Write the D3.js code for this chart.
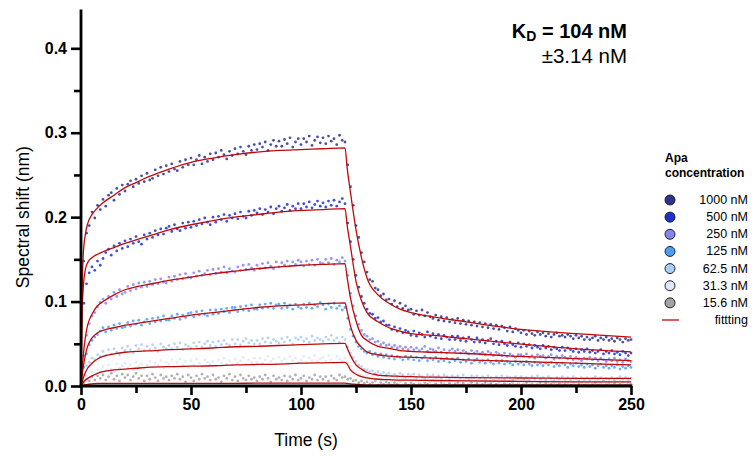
<!DOCTYPE html>
<html>
<head>
<meta charset="utf-8">
<script src="https://cdn.jsdelivr.net/npm/d3@7"></script>
<style>
  body { margin: 0; background: #fff; }
  text { font-family: "Liberation Sans", Arial, Helvetica, sans-serif; }
</style>
</head>
<body>
<div id="chart"></div>
<script>
// sizes of the picture
const width = 755
const height = 456
const margin = {left: 81, right: 124, top: 10, bottom: 70}

// concentrations, colours used for each series
const concentrations = ["1000 nM", "500 nM", "250 nM", "125 nM", "62.5 nM", "31.3 nM", "15.6 nM"]
const colours = ["#2a3391", "#1f30cf", "#8585f2", "#4a9ff3", "#a9cdf4", "#dce8f9", "#a3a3a3"]

// ticks
const xTicks = [0, 50, 100, 150, 200, 250]
const xMinor = [25, 75, 125, 175, 225]
const yTicks = [0, 0.1, 0.2, 0.3, 0.4]
const yMinor = [0.05, 0.15, 0.25, 0.35]

// measured points, one every 1.25 s (0 ... 250 s), one row = 10 s
const sampleTime = d3.range(0, 250.01, 1.25)

const data1000 = [
  0.004, 0.148, 0.181, 0.190, 0.206, 0.199, 0.214, 0.209,
  0.221, 0.213, 0.226, 0.229, 0.220, 0.234, 0.227, 0.238,
  0.231, 0.239, 0.243, 0.236, 0.245, 0.240, 0.249, 0.242,
  0.252, 0.244, 0.246, 0.256, 0.249, 0.259, 0.251, 0.261,
  0.254, 0.263, 0.257, 0.255, 0.266, 0.259, 0.268, 0.262,
  0.270, 0.262, 0.268, 0.273, 0.263, 0.271, 0.266, 0.275,
  0.268, 0.276, 0.271, 0.279, 0.274, 0.269, 0.278, 0.273,
  0.281, 0.275, 0.283, 0.278, 0.274, 0.284, 0.279, 0.286,
  0.280, 0.287, 0.283, 0.289, 0.279, 0.286, 0.291, 0.284,
  0.290, 0.284, 0.292, 0.287, 0.294, 0.283, 0.289, 0.293,
  0.286, 0.293, 0.289, 0.296, 0.285, 0.291, 0.295, 0.288,
  0.294, 0.287, 0.296, 0.290, 0.293, 0.286, 0.297, 0.291,
  0.289, 0.262, 0.236, 0.214, 0.190, 0.176, 0.158, 0.147,
  0.135, 0.126, 0.124, 0.116, 0.114, 0.107, 0.109, 0.102,
  0.103, 0.097, 0.101, 0.094, 0.098, 0.092, 0.095, 0.090,
  0.091, 0.085, 0.089, 0.084, 0.090, 0.083, 0.087, 0.082,
  0.080, 0.084, 0.078, 0.082, 0.077, 0.081, 0.076, 0.079,
  0.075, 0.080, 0.074, 0.078, 0.073, 0.077, 0.072, 0.076,
  0.071, 0.075, 0.070, 0.074, 0.069, 0.073, 0.068, 0.072,
  0.067, 0.071, 0.069, 0.065, 0.070, 0.064, 0.068, 0.066,
  0.063, 0.066, 0.061, 0.065, 0.062, 0.060, 0.064, 0.061,
  0.063, 0.059, 0.062, 0.058, 0.061, 0.063, 0.059, 0.060,
  0.058, 0.061, 0.059, 0.056, 0.060, 0.057, 0.059, 0.055,
  0.058, 0.055, 0.057, 0.059, 0.054, 0.057, 0.055, 0.058,
  0.054, 0.056, 0.053, 0.057, 0.055, 0.052, 0.056, 0.054,
  0.055]
const data500 = [
  0.003, 0.098, 0.121, 0.134, 0.141, 0.137, 0.148, 0.143,
  0.151, 0.158, 0.162, 0.155, 0.166, 0.160, 0.169, 0.163,
  0.172, 0.165, 0.174, 0.169, 0.177, 0.171, 0.168, 0.179,
  0.174, 0.181, 0.176, 0.184, 0.179, 0.186, 0.180, 0.187,
  0.189, 0.183, 0.191, 0.186, 0.184, 0.193, 0.187, 0.194,
  0.188, 0.195, 0.190, 0.197, 0.192, 0.199, 0.194, 0.191,
  0.200, 0.194, 0.201, 0.197, 0.203, 0.195, 0.202, 0.199,
  0.204, 0.198, 0.206, 0.201, 0.199, 0.207, 0.202, 0.208,
  0.205, 0.210, 0.203, 0.209, 0.206, 0.212, 0.204, 0.210,
  0.213, 0.207, 0.211, 0.215, 0.208, 0.213, 0.210, 0.216,
  0.210, 0.216, 0.212, 0.218, 0.211, 0.215, 0.219, 0.213,
  0.217, 0.212, 0.219, 0.214, 0.220, 0.213, 0.218, 0.222,
  0.216, 0.193, 0.171, 0.150, 0.131, 0.117, 0.106, 0.098,
  0.091, 0.086, 0.085, 0.080, 0.081, 0.076, 0.077, 0.072,
  0.072, 0.067, 0.070, 0.065, 0.068, 0.063, 0.066, 0.064,
  0.060, 0.065, 0.059, 0.063, 0.061, 0.058, 0.064, 0.059,
  0.062, 0.057, 0.061, 0.056, 0.060, 0.058, 0.055, 0.059,
  0.055, 0.059, 0.054, 0.057, 0.053, 0.058, 0.055, 0.052,
  0.057, 0.052, 0.055, 0.051, 0.054, 0.056, 0.050, 0.053,
  0.049, 0.053, 0.050, 0.048, 0.052, 0.049, 0.047, 0.051,
  0.046, 0.050, 0.047, 0.049, 0.045, 0.048, 0.046, 0.044,
  0.048, 0.045, 0.047, 0.043, 0.046, 0.044, 0.042, 0.046,
  0.042, 0.045, 0.043, 0.041, 0.044, 0.040, 0.043, 0.041,
  0.044, 0.040, 0.042, 0.039, 0.041, 0.043, 0.038, 0.041,
  0.039, 0.042, 0.038, 0.040, 0.037, 0.041, 0.039, 0.036,
  0.039]
const data250 = [
  0.002, 0.036, 0.060, 0.074, 0.083, 0.087, 0.094, 0.099,
  0.103, 0.098, 0.106, 0.103, 0.111, 0.106, 0.114, 0.109,
  0.111, 0.118, 0.113, 0.120, 0.115, 0.122, 0.117, 0.123,
  0.118, 0.124, 0.120, 0.126, 0.121, 0.127, 0.123, 0.122,
  0.129, 0.124, 0.130, 0.126, 0.132, 0.127, 0.133, 0.129,
  0.128, 0.134, 0.130, 0.136, 0.131, 0.133, 0.137, 0.132,
  0.138, 0.133, 0.139, 0.135, 0.141, 0.134, 0.139, 0.136,
  0.135, 0.141, 0.137, 0.143, 0.138, 0.144, 0.140, 0.137,
  0.143, 0.139, 0.145, 0.140, 0.146, 0.142, 0.139, 0.147,
  0.141, 0.146, 0.143, 0.148, 0.142, 0.147, 0.144, 0.149,
  0.147, 0.142, 0.148, 0.144, 0.149, 0.143, 0.150, 0.146,
  0.145, 0.150, 0.146, 0.151, 0.144, 0.149, 0.147, 0.152,
  0.148, 0.131, 0.110, 0.095, 0.083, 0.073, 0.066, 0.061,
  0.059, 0.055, 0.056, 0.052, 0.053, 0.049, 0.051, 0.048,
  0.049, 0.046, 0.048, 0.045, 0.047, 0.044, 0.046, 0.043,
  0.046, 0.043, 0.045, 0.042, 0.044, 0.047, 0.041, 0.044,
  0.043, 0.041, 0.045, 0.040, 0.043, 0.039, 0.042, 0.044,
  0.041, 0.043, 0.039, 0.042, 0.040, 0.038, 0.042, 0.039,
  0.041, 0.038, 0.040, 0.037, 0.041, 0.039, 0.036, 0.040,
  0.038, 0.036, 0.039, 0.035, 0.038, 0.036, 0.034, 0.037,
  0.037, 0.035, 0.038, 0.034, 0.036, 0.033, 0.037, 0.035,
  0.036, 0.033, 0.035, 0.037, 0.032, 0.035, 0.033, 0.036,
  0.034, 0.032, 0.035, 0.031, 0.034, 0.032, 0.030, 0.033,
  0.032, 0.034, 0.031, 0.033, 0.030, 0.033, 0.031, 0.029,
  0.032, 0.030, 0.033, 0.029, 0.031, 0.028, 0.032, 0.030,
  0.029]
const data125 = [
  0.001, 0.022, 0.038, 0.049, 0.054, 0.058, 0.061, 0.065,
  0.069, 0.064, 0.070, 0.066, 0.072, 0.068, 0.074, 0.069,
  0.070, 0.075, 0.071, 0.077, 0.073, 0.078, 0.072, 0.076,
  0.079, 0.074, 0.080, 0.076, 0.081, 0.077, 0.083, 0.078,
  0.078, 0.083, 0.080, 0.085, 0.079, 0.084, 0.081, 0.086,
  0.087, 0.082, 0.088, 0.084, 0.089, 0.085, 0.083, 0.090,
  0.085, 0.090, 0.086, 0.091, 0.088, 0.092, 0.087, 0.093,
  0.093, 0.088, 0.094, 0.090, 0.095, 0.089, 0.096, 0.091,
  0.091, 0.096, 0.092, 0.097, 0.093, 0.098, 0.092, 0.096,
  0.097, 0.092, 0.098, 0.093, 0.096, 0.091, 0.097, 0.094,
  0.092, 0.097, 0.093, 0.098, 0.092, 0.096, 0.094, 0.099,
  0.096, 0.091, 0.097, 0.093, 0.098, 0.092, 0.095, 0.090,
  0.093, 0.080, 0.067, 0.059, 0.052, 0.047, 0.044, 0.041,
  0.039, 0.041, 0.037, 0.039, 0.035, 0.038, 0.034, 0.037,
  0.033, 0.036, 0.032, 0.035, 0.034, 0.031, 0.035, 0.032,
  0.035, 0.031, 0.034, 0.030, 0.033, 0.035, 0.030, 0.033,
  0.031, 0.034, 0.029, 0.032, 0.030, 0.033, 0.028, 0.032,
  0.030, 0.033, 0.028, 0.031, 0.029, 0.032, 0.027, 0.030,
  0.032, 0.028, 0.030, 0.027, 0.031, 0.028, 0.026, 0.030,
  0.027, 0.030, 0.026, 0.029, 0.027, 0.025, 0.029, 0.026,
  0.028, 0.025, 0.029, 0.026, 0.024, 0.028, 0.025, 0.027,
  0.024, 0.027, 0.025, 0.028, 0.023, 0.026, 0.024, 0.027,
  0.025, 0.022, 0.026, 0.024, 0.027, 0.023, 0.025, 0.022,
  0.026, 0.023, 0.025, 0.021, 0.024, 0.026, 0.022, 0.024,
  0.021, 0.024, 0.022, 0.025, 0.020, 0.023, 0.021, 0.024,
  0.022]
const data62 = [
  0.002, 0.013, 0.024, 0.028, 0.033, 0.031, 0.037, 0.035,
  0.041, 0.036, 0.043, 0.038, 0.044, 0.040, 0.037, 0.045,
  0.042, 0.047, 0.043, 0.039, 0.048, 0.044, 0.049, 0.042,
  0.047, 0.043, 0.049, 0.045, 0.041, 0.050, 0.046, 0.044,
  0.048, 0.044, 0.050, 0.046, 0.051, 0.043, 0.049, 0.047,
  0.045, 0.051, 0.047, 0.052, 0.046, 0.050, 0.053, 0.048,
  0.052, 0.047, 0.053, 0.049, 0.054, 0.050, 0.048, 0.055,
  0.050, 0.055, 0.049, 0.053, 0.056, 0.051, 0.054, 0.050,
  0.054, 0.050, 0.056, 0.052, 0.057, 0.051, 0.055, 0.053,
  0.051, 0.056, 0.052, 0.058, 0.054, 0.050, 0.057, 0.055,
  0.058, 0.053, 0.056, 0.052, 0.059, 0.054, 0.057, 0.055,
  0.053, 0.058, 0.055, 0.060, 0.054, 0.057, 0.052, 0.058,
  0.055, 0.046, 0.039, 0.034, 0.029, 0.025, 0.023, 0.020,
  0.019, 0.017, 0.018, 0.015, 0.017, 0.014, 0.016, 0.013,
  0.015, 0.012, 0.014, 0.011, 0.015, 0.013, 0.010, 0.014,
  0.012, 0.014, 0.010, 0.013, 0.011, 0.009, 0.013, 0.011,
  0.013, 0.010, 0.012, 0.009, 0.013, 0.011, 0.008, 0.012,
  0.010, 0.012, 0.009, 0.013, 0.010, 0.008, 0.012, 0.010,
  0.012, 0.009, 0.011, 0.008, 0.012, 0.010, 0.007, 0.011,
  0.009, 0.012, 0.008, 0.011, 0.010, 0.007, 0.011, 0.009,
  0.011, 0.008, 0.010, 0.007, 0.011, 0.009, 0.012, 0.008,
  0.010, 0.007, 0.011, 0.009, 0.006, 0.010, 0.008, 0.011,
  0.008, 0.010, 0.007, 0.011, 0.009, 0.006, 0.010, 0.008,
  0.010, 0.007, 0.009, 0.011, 0.008, 0.010, 0.006, 0.009,
  0.008, 0.010, 0.007, 0.009, 0.011, 0.008, 0.010, 0.007,
  0.009]
const data31 = [
  0.001, 0.006, 0.012, 0.009, 0.016, 0.013, 0.019, 0.017,
  0.023, 0.018, 0.025, 0.020, 0.017, 0.026, 0.021, 0.024,
  0.027, 0.021, 0.025, 0.019, 0.028, 0.023, 0.026, 0.020,
  0.025, 0.029, 0.022, 0.027, 0.024, 0.030, 0.021, 0.028,
  0.026, 0.031, 0.023, 0.028, 0.032, 0.025, 0.029, 0.022,
  0.030, 0.025, 0.032, 0.027, 0.023, 0.031, 0.028, 0.026,
  0.029, 0.024, 0.031, 0.027, 0.033, 0.026, 0.030, 0.025,
  0.032, 0.027, 0.030, 0.034, 0.026, 0.031, 0.028, 0.033,
  0.028, 0.033, 0.027, 0.031, 0.035, 0.029, 0.032, 0.026,
  0.034, 0.029, 0.032, 0.027, 0.035, 0.030, 0.033, 0.028,
  0.031, 0.035, 0.028, 0.033, 0.030, 0.036, 0.029, 0.032,
  0.034, 0.029, 0.036, 0.031, 0.028, 0.035, 0.032, 0.030,
  0.033, 0.027, 0.023, 0.019, 0.017, 0.014, 0.013, 0.011,
  0.012, 0.009, 0.011, 0.008, 0.012, 0.009, 0.007, 0.010,
  0.009, 0.006, 0.010, 0.008, 0.005, 0.009, 0.007, 0.010,
  0.006, 0.009, 0.007, 0.004, 0.008, 0.006, 0.009, 0.005,
  0.008, 0.005, 0.009, 0.006, 0.004, 0.008, 0.006, 0.009,
  0.005, 0.008, 0.004, 0.007, 0.006, 0.003, 0.008, 0.005,
  0.007, 0.004, 0.006, 0.008, 0.003, 0.006, 0.005, 0.007,
  0.004, 0.007, 0.005, 0.003, 0.007, 0.005, 0.008, 0.004,
  0.006, 0.003, 0.007, 0.005, 0.004, 0.007, 0.003, 0.006,
  0.005, 0.007, 0.003, 0.006, 0.004, 0.007, 0.005, 0.003,
  0.006, 0.004, 0.007, 0.003, 0.005, 0.006, 0.004, 0.006,
  0.003, 0.006, 0.004, 0.007, 0.005, 0.003, 0.006, 0.004,
  0.005, 0.003, 0.006, 0.004, 0.006, 0.003, 0.005, 0.004,
  0.005]
const data15 = [
  0.000, 0.004, 0.008, 0.006, 0.011, 0.007, 0.012, 0.009,
  0.013, 0.007, 0.011, 0.015, 0.008, 0.012, 0.006, 0.014,
  0.010, 0.013, 0.007, 0.011, 0.015, 0.009, 0.012, 0.006,
  0.012, 0.008, 0.014, 0.010, 0.006, 0.013, 0.009, 0.011,
  0.007, 0.012, 0.009, 0.014, 0.008, 0.011, 0.005, 0.013,
  0.010, 0.006, 0.012, 0.008, 0.014, 0.009, 0.011, 0.007,
  0.013, 0.008, 0.010, 0.005, 0.012, 0.009, 0.014, 0.007,
  0.011, 0.006, 0.013, 0.009, 0.007, 0.012, 0.008, 0.010,
  0.006, 0.011, 0.008, 0.013, 0.009, 0.005, 0.012, 0.008,
  0.010, 0.007, 0.012, 0.006, 0.011, 0.008, 0.013, 0.007,
  0.009, 0.012, 0.006, 0.010, 0.008, 0.013, 0.007, 0.011,
  0.008, 0.011, 0.006, 0.012, 0.009, 0.007, 0.013, 0.010,
  0.011, 0.008, 0.009, 0.006, 0.007, 0.004, 0.006, 0.003,
  0.005, 0.002, 0.004, 0.006, 0.001, 0.004, 0.002, 0.005,
  0.003, 0.001, 0.004, 0.002, 0.005, 0.000, 0.003, 0.001,
  0.004, 0.002, 0.000, 0.003, 0.001, 0.004, 0.002, 0.005,
  0.001, 0.003, 0.000, 0.004, 0.002, 0.001, 0.003, 0.000,
  0.002, 0.004, 0.001, 0.003, 0.000, 0.002, 0.004, 0.001,
  0.003, 0.000, 0.002, 0.004, 0.001, 0.003, 0.000, 0.002,
  0.004, 0.001, 0.003, 0.000, 0.002, 0.004, 0.001, 0.003,
  0.000, 0.002, 0.004, 0.001, 0.003, 0.000, 0.002, 0.004,
  0.001, 0.003, 0.000, 0.002, 0.004, 0.001, 0.003, 0.000,
  0.002, 0.004, 0.001, 0.003, 0.000, 0.002, 0.004, 0.001,
  0.003, 0.000, 0.002, 0.004, 0.001, 0.003, 0.000, 0.002,
  0.004, 0.001, 0.003, 0.000, 0.002, 0.004, 0.001, 0.003,
  0.002]

// fitted curves, read at these times
const fitTime = [0, 0.5, 1, 2, 3, 5, 7.5, 10, 15, 20, 25, 30, 40, 50, 60, 70, 80, 90, 100, 110,
  120, 121, 122.5, 125, 127.5, 130, 135, 140, 145, 150, 160, 175, 200, 225, 250]

const fit1000 = [0, 0.11, 0.155, 0.180, 0.192, 0.203, 0.211, 0.217, 0.226, 0.235,
  0.241, 0.247, 0.257, 0.265, 0.270, 0.274, 0.277, 0.279, 0.280, 0.281,
  0.282, 0.258, 0.229, 0.185, 0.152, 0.128, 0.108, 0.098, 0.091, 0.087,
  0.082, 0.076, 0.067, 0.062, 0.058]
const fit500 = [0, 0.085, 0.115, 0.138, 0.146, 0.152, 0.156, 0.159, 0.164, 0.169,
  0.173, 0.177, 0.185, 0.191, 0.196, 0.200, 0.203, 0.206, 0.208, 0.209,
  0.210, 0.190, 0.165, 0.124, 0.101, 0.087, 0.076, 0.069, 0.065, 0.062,
  0.060, 0.056, 0.0495, 0.044, 0.0405]
const fit250 = [0, 0.02, 0.035, 0.058, 0.072, 0.085, 0.095, 0.100, 0.108, 0.114,
  0.1175, 0.120, 0.125, 0.129, 0.133, 0.136, 0.139, 0.141, 0.143, 0.144,
  0.145, 0.128, 0.104, 0.077, 0.060, 0.054, 0.047, 0.0445, 0.042, 0.041,
  0.040, 0.0385, 0.035, 0.0325, 0.030]
const fit125 = [0, 0.012, 0.022, 0.037, 0.047, 0.057, 0.063, 0.066, 0.069, 0.072,
  0.074, 0.076, 0.080, 0.084, 0.087, 0.090, 0.093, 0.095, 0.096, 0.0975,
  0.0985, 0.088, 0.071, 0.054, 0.046, 0.0405, 0.037, 0.0355, 0.0345, 0.034,
  0.033, 0.031, 0.029, 0.027, 0.025]
const fit62 = [0, 0.005, 0.009, 0.016, 0.021, 0.027, 0.032, 0.035, 0.038, 0.040,
  0.041, 0.0415, 0.043, 0.044, 0.045, 0.0465, 0.047, 0.048, 0.049, 0.050,
  0.0505, 0.045, 0.036, 0.025, 0.020, 0.016, 0.013, 0.012, 0.0115, 0.011,
  0.0105, 0.010, 0.0095, 0.009, 0.009]
const fit31 = [0, 0.002, 0.004, 0.007, 0.009, 0.012, 0.015, 0.017, 0.019, 0.020,
  0.021, 0.022, 0.023, 0.0235, 0.024, 0.025, 0.0255, 0.026, 0.027, 0.0275,
  0.028, 0.026, 0.019, 0.014, 0.011, 0.0095, 0.008, 0.0075, 0.007, 0.007,
  0.0065, 0.006, 0.0055, 0.005, 0.005]
const fit15 = [0, 0.0005, 0.001, 0.0015, 0.002, 0.0025, 0.003, 0.003, 0.003, 0.003,
  0.003, 0.003, 0.003, 0.003, 0.003, 0.0032, 0.0033, 0.0034, 0.0035, 0.0035,
  0.0035, 0.003, 0.0025, 0.002, 0.0015, 0.001, 0.001, 0.001, 0.001, 0.001,
  0.001, 0.001, 0.001, 0.001, 0.001]

const allData = [data1000, data500, data250, data125, data62, data31, data15]
const allFits = [fit1000, fit500, fit250, fit125, fit62, fit31, fit15]

// scales
var xScale = d3.scaleLinear().domain([0, 250]).range([margin.left, 631])
var yScale = d3.scaleLinear().domain([0, 0.4]).range([386, 48.3])

var svg = d3.select("#chart").append("svg")
    .attr("width", width)
    .attr("height", height)

// clip so nothing leaves the plot
svg.append("clipPath").attr("id", "plotclip")
  .append("rect")
    .attr("x", xScale(0)).attr("y", yScale(0.445))
    .attr("width", xScale(250) - xScale(0) + 2)
    .attr("height", yScale(-0.002) - yScale(0.445))

// points: lightest series first, darkest on top
var pts = svg.append("g").attr("class", "points").attr("clip-path", "url(#plotclip)")
for (var s = allData.length - 1; s >= 0; s--) {
  pts.append("g")
    .selectAll("circle")
    .data(allData[s])
    .enter()
    .append("circle")
      .attr("cx", function(d, i) { return xScale(sampleTime[i]); })
      .attr("cy", function(d) { return yScale(d); })
      .attr("r", 1.4)
      .attr("fill", colours[s])
      .attr("opacity", 0.85)
}

// fitted lines
var line = d3.line()
    .x(function(d, i) { return xScale(fitTime[i]); })
    .y(function(d) { return yScale(d); })
    .curve(d3.curveMonotoneX)

svg.append("g").attr("class", "fits")
  .selectAll("path")
  .data(allFits)
  .enter()
  .append("path")
    .attr("d", line)
    .attr("fill", "none")
    .attr("stroke", "#c00a0a")
    .attr("stroke-width", 1.3)

// axis styling
function styleAxis(g) {
  g.select(".domain").remove()
  g.selectAll("line").attr("stroke", "#000").attr("stroke-width", 2.6)
  g.selectAll("text")
    .attr("fill", "#000")
    .style("font-size", "16px")
    .style("font-weight", "bold")
}

// y-as
svg.append("g")
    .attr("transform", "translate(" + xScale(0) + ",0)")
    .call(d3.axisLeft(yScale).tickValues(yTicks).tickFormat(d3.format(".1f")).tickSize(10).tickPadding(4))
    .call(styleAxis)

svg.append("g")
    .attr("transform", "translate(" + xScale(0) + ",0)")
    .call(d3.axisLeft(yScale).tickValues(yMinor).tickFormat("").tickSize(7))
    .call(styleAxis)

// x-as
svg.append("g")
    .attr("transform", "translate(0," + yScale(0) + ")")
    .call(d3.axisBottom(xScale).tickValues(xTicks).tickSize(9).tickPadding(4))
    .call(styleAxis)

svg.append("g")
    .attr("transform", "translate(0," + yScale(0) + ")")
    .call(d3.axisBottom(xScale).tickValues(xMinor).tickFormat("").tickSize(7))
    .call(styleAxis)

// axis lines
svg.append("line")
    .attr("x1", xScale(0)).attr("x2", xScale(0))
    .attr("y1", yScale(0) + 1.3).attr("y2", yScale(0.446))
    .attr("stroke", "#000").attr("stroke-width", 2.8)
svg.append("line")
    .attr("x1", xScale(0) - 1.3).attr("x2", xScale(250) + 1.3)
    .attr("y1", yScale(0)).attr("y2", yScale(0))
    .attr("stroke", "#000").attr("stroke-width", 2.8)

// axis titles
svg.append("text")
    .attr("transform", "translate(29," + yScale(0.2) + ") rotate(-90)")
    .attr("text-anchor", "middle")
    .style("font-size", "17.5px")
    .text("Spectral shift (nm)")

svg.append("text")
    .attr("x", 306).attr("y", 446)
    .attr("text-anchor", "middle")
    .style("font-size", "17.5px")
    .text("Time (s)")

// KD
var kd = svg.append("text")
    .attr("x", 627).attr("y", 38)
    .attr("text-anchor", "end")
    .style("font-size", "20px")
    .style("font-weight", "bold")
kd.append("tspan").text("K")
kd.append("tspan").attr("dy", 3).style("font-size", "14px").text("D")
kd.append("tspan").attr("dy", -3).text(" = 104 nM")

svg.append("text")
    .attr("x", 627).attr("y", 63)
    .attr("text-anchor", "end")
    .style("font-size", "20.5px")
    .text("±3.14 nM")

// legend
var legend = svg.append("g").attr("class", "legend")
legend.append("text").attr("x", 665).attr("y", 162)
    .style("font-size", "12px").style("font-weight", "bold").text("Apa")
legend.append("text").attr("x", 665).attr("y", 177)
    .style("font-size", "12px").style("font-weight", "bold").text("concentration")

var legendY = d3.scalePoint().domain(concentrations.concat(["fittting"])).range([200, 320])

legend.selectAll("circle")
    .data(concentrations)
    .enter()
    .append("circle")
      .attr("cx", 670)
      .attr("cy", function(d) { return legendY(d); })
      .attr("r", 5)
      .attr("fill", function(d, i) { return colours[i]; })
      .attr("stroke", "#222")
      .attr("stroke-width", 1)

legend.selectAll("text.lab")
    .data(concentrations.concat(["fittting"]))
    .enter()
    .append("text")
      .attr("class", "lab")
      .attr("x", 748)
      .attr("y", function(d) { return legendY(d) + 4; })
      .attr("text-anchor", "end")
      .style("font-size", "12.5px")
      .text(function(d) { return d; })

legend.append("line")
    .attr("x1", 662).attr("x2", 679)
    .attr("y1", legendY("fittting")).attr("y2", legendY("fittting"))
    .attr("stroke", "#c00a0a").attr("stroke-width", 1.3)
</script>
</body>
</html>
